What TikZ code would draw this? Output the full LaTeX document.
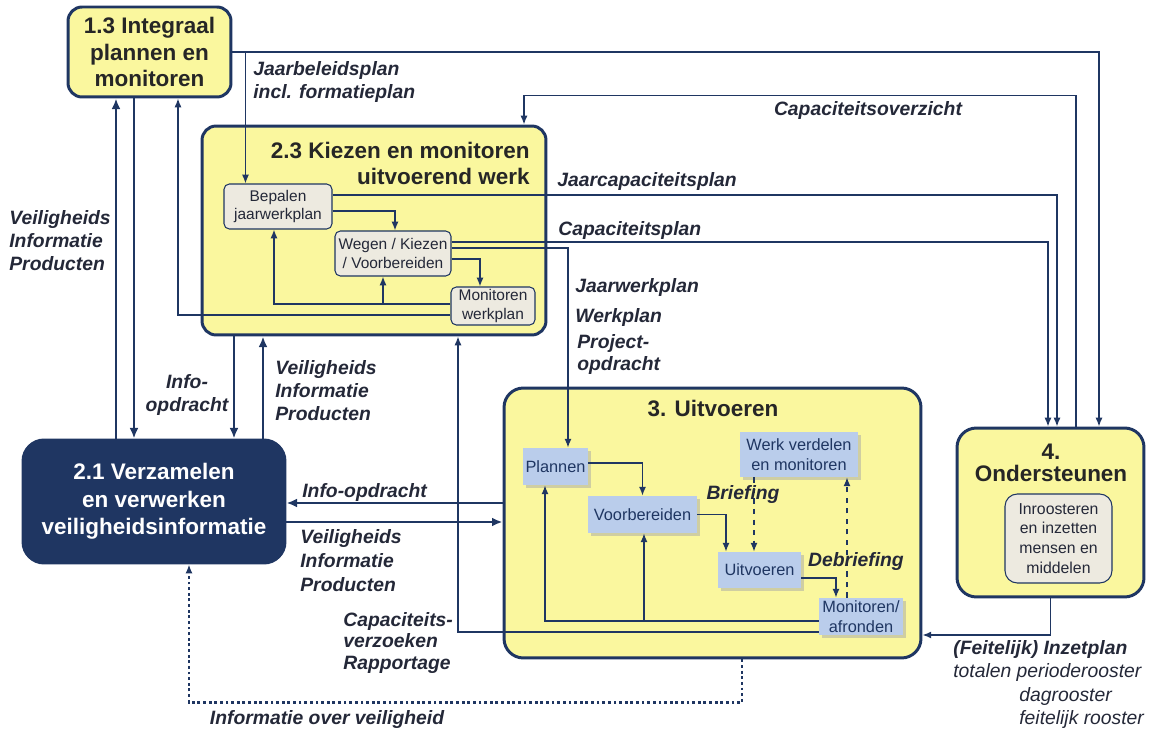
\documentclass[tikz,border=0pt]{standalone}
\usepackage{fontspec}
\setmainfont{Liberation Sans}
\usepackage{tikz}
\usetikzlibrary{calc,shadows,arrows.meta}
\definecolor{donkerblauw}{RGB}{31,54,98}
\definecolor{vlakgeel}{RGB}{250,247,158}
\definecolor{kadergrijs}{RGB}{237,234,224}
\definecolor{kaderblauw}{RGB}{186,205,235}
\definecolor{tekstgrijs}{RGB}{36,40,56}

\tikzset{
	blok/.style={draw=donkerblauw,line width=1.7pt,fill=vlakgeel,rounded corners=8pt,inner sep=0pt},
	deelblok/.style={draw=donkerblauw,line width=0.6pt,fill=kadergrijs,rounded corners=3pt,inner sep=0pt,align=center,font=\fontsize{8.8}{10.5}\selectfont,text=tekstgrijs},
	taakblok/.style={fill=kaderblauw,inner sep=0pt,align=center,font=\fontsize{9.3}{11}\selectfont,text=donkerblauw,drop shadow={shadow xshift=1.5pt,shadow yshift=-1.5pt,fill=black!35}},
	pijl/.style={draw=donkerblauw,line width=0.8pt,-{Latex[length=5pt,width=4pt]}},
	dikpijl/.style={draw=donkerblauw,line width=1.5pt,-{Latex[length=6pt,width=5pt]}},
	bijschrift/.style={font=\bfseries\itshape\fontsize{11}{13}\selectfont,text=tekstgrijs,inner sep=0pt,align=left},
	bijschriftlicht/.style={font=\itshape\fontsize{11}{13}\selectfont,text=tekstgrijs,inner sep=0pt,align=left},
	titel/.style={font=\bfseries\fontsize{12.8}{15.3}\selectfont,text=black!85,inner sep=0pt}
}

\begin{document}
\begin{tikzpicture}[x=0.02cm,y=-0.02cm]
	\useasboundingbox (0,0) rectangle (1157,736);

	\node [blok,titel,align=center,minimum width=3.26cm,minimum height=1.8cm] (integraal) at (149.5,52) {1.3 Integraal\\plannen en\\monitoren};

	\node [blok,minimum width=6.88cm,minimum height=4.18cm] (kiezen) at (374,230.5) {};
	\node [titel,align=right,anchor=north east,font=\bfseries\fontsize{12.8}{14.7}\selectfont] (kiezentitel) at (530,142) {2.3 Kiezen en monitoren\\uitvoerend werk};
	\node [deelblok,minimum width=2.16cm,minimum height=0.9cm] (bepalen) at (278,206.5) {Bepalen\\jaarwerkplan};
	\node [deelblok,minimum width=2.32cm,minimum height=0.9cm] (wegen) at (393,253.5) {Wegen / Kiezen\\/ Voorbereiden};
	\node [deelblok,minimum width=1.68cm,minimum height=0.76cm] (monwerk) at (493,306) {Monitoren\\werkplan};

	\node [blok,fill=donkerblauw,rounded corners=12pt,titel,text=white,align=center,font=\bfseries\fontsize{12.8}{15.6}\selectfont,minimum width=5.24cm,minimum height=2.46cm] (verzamelen) at (154,501.5) {2.1 Verzamelen\\en verwerken\\veiligheidsinformatie};

	\node [blok,rounded corners=11pt,minimum width=8.34cm,minimum height=5.4cm] (uitvoeren) at (712.5,523) {};
	\node [titel] (uitvoerentitel) at (713,408) {3. Uitvoeren};
	\node [taakblok,minimum width=1.3cm,minimum height=0.74cm] (plannen) at (555.5,466.5) {Plannen};
	\node [taakblok,minimum width=2.18cm,minimum height=0.74cm] (voorber) at (642.5,514.5) {Voorbereiden};
	\node [taakblok,minimum width=2.36cm,minimum height=0.9cm] (verdelen) at (799,454.5) {Werk verdelen\\en monitoren};
	\node [taakblok,minimum width=1.66cm,minimum height=0.72cm] (uitv) at (759.5,570) {Uitvoeren};
	\node [taakblok,minimum width=1.68cm,minimum height=0.74cm] (afronden) at (861,616.5) {Monitoren/\\afronden};

	\node [blok,rounded corners=11pt,minimum width=3.74cm,minimum height=3.38cm] (onderst) at (1050.5,512.5) {};
	\node [titel,align=center,font=\bfseries\fontsize{12.8}{12.5}\selectfont] (onderstitel) at (1051,463) {4.\\Ondersteunen};
	\node [deelblok,rounded corners=7pt,font=\fontsize{9}{11.3}\selectfont,minimum width=2.14cm,minimum height=1.78cm] (inroosteren) at (1058.5,538.5) {Inroosteren\\en inzetten\\mensen en\\middelen};

	\coordinate (t1) at ($(bepalen.north west)+(22,0)$);
	\draw [pijl] (integraal.east) -| ($(onderst.north)+(48.5,0)$);
	\draw [pijl] (t1 |- integraal.east) -- (t1);
	\node [bijschrift,anchor=north west] (jbp) at (253,61) {Jaarbeleidsplan\\incl. formatieplan};

	\draw [pijl] ($(onderst.north)+(25.5,0)$) -- ++(0,-331) -| ($(kiezen.north)+(150,0)$);
	\node [bijschrift] (capov) at (868,111) {Capaciteitsoverzicht};
	\draw [pijl] ($(bepalen.east)+(0,-11.5)$) -| ($(onderst.north)+(6.5,0)$);
	\node [bijschrift,anchor=west] (jcp) at (557,182) {Jaarcapaciteitsplan};
	\draw [pijl] ($(wegen.east)+(0,-11.5)$) -| ($(onderst.north)+(-2.5,0)$);
	\node [bijschrift,anchor=west] (cp) at (558,231) {Capaciteitsplan};
	\draw [pijl] ($(wegen.east)+(0,-5.5)$) -| ($(plannen.north)+(12.5,0)$);
	\node [bijschrift,anchor=west] (jwp) at (575,288) {Jaarwerkplan};
	\node [bijschrift,anchor=west] (wp) at (575,318) {Werkplan};
	\node [bijschrift,anchor=north west,font=\bfseries\itshape\fontsize{11}{12.5}\selectfont] (po) at (577,334) {Project-\\opdracht};

	\draw [pijl] ($(bepalen.east)+(0,4.5)$) -| ($(wegen.north)+(2,0)$);
	\draw [pijl] ($(wegen.east)+(0,5.5)$) -| ($(monwerk.north)+(-13,0)$);
	\draw [pijl] ($(monwerk.west)+(0,-2)$) -| ($(bepalen.south)+(-4,0)$);
	\draw [pijl] ($(wegen.south)+(-10,28)$) -- ($(wegen.south)+(-10,0)$);
	\draw [pijl] ($(monwerk.west)+(0,9)$) -| ($(integraal.south)+(28.5,0)$);

	\coordinate (v1) at ($(verzamelen.north)+(-38,0)$);
	\coordinate (v2) at ($(verzamelen.north)+(-20,0)$);
	\coordinate (v3) at ($(verzamelen.north)+(80,0)$);
	\coordinate (v4) at ($(verzamelen.north)+(109,0)$);
	\draw [dikpijl] (v1) -- (v1 |- integraal.south);
	\draw [dikpijl] (v2 |- integraal.south) -- (v2);
	\draw [dikpijl] (v3 |- kiezen.south) -- (v3);
	\draw [dikpijl] (v4) -- (v4 |- kiezen.south);
	\node [bijschrift,anchor=north west] (vip1) at (9,210) {Veiligheids\\Informatie\\Producten};
	\node [bijschrift,align=center] (io1) at (187,395) {Info-\\opdracht};
	\node [bijschrift,anchor=north west] (vip2) at (275,360) {Veiligheids\\Informatie\\Producten};

	\coordinate (h1) at ($(uitvoeren.west)+(0,-20)$);
	\coordinate (h2) at ($(verzamelen.east)+(0,20.5)$);
	\draw [dikpijl] (h1) -- (h1 -| verzamelen.east);
	\draw [dikpijl] (h2) -- (h2 -| uitvoeren.west);
	\node [bijschrift,anchor=west] (io2) at (302,493) {Info-opdracht};
	\node [bijschrift,anchor=north west,font=\bfseries\itshape\fontsize{11}{13.6}\selectfont] (vip3) at (300,529) {Veiligheids\\Informatie\\Producten};

	\draw [pijl] ($(afronden.west)+(0,15.5)$) -| ($(kiezen.south)+(84,0)$);
	\node [bijschrift,anchor=north west,font=\bfseries\itshape\fontsize{11}{12.2}\selectfont] (cvr) at (343,612) {Capaciteits-\\verzoeken\\Rapportage};

	\coordinate (h3) at ($(voorber.south)+(1.5,0)$);
	\coordinate (h4) at ($(afronden.west)+(0,4.5)$);
	\draw [pijl] (h4) -| ($(plannen.south)+(-10.5,0)$);
	\draw [pijl] (h3 |- h4) -- (h3);
	\draw [pijl] ($(plannen.east)+(0,-3.5)$) -| (voorber.north);
	\draw [pijl] (voorber.east) -| ($(uitv.north)+(-33.5,0)$);
	\draw [pijl] ($(uitv.east)+(0,8)$) -| ($(afronden.north)+(-25,0)$);
	\coordinate (d1) at ($(verdelen.south)+(-45,0)$);
	\coordinate (d2) at ($(afronden.north)+(-14,0)$);
	\draw [pijl,dashed] (d1) -- (d1 |- uitv.north);
	\draw [pijl,dashed] (d2) -- (d2 |- verdelen.south);
	\node [bijschrift] (brief) at (743,495) {Briefing};
	\node [bijschrift] (debrief) at (856,562) {Debriefing};

	\draw [pijl] (onderst.south) |- ($(uitvoeren.east)+(0,112)$);
	\node [bijschrift,anchor=west] (inzet) at (953,650) {(Feitelijk) Inzetplan};
	\node [bijschriftlicht,anchor=west] (totalen) at (953,673) {totalen perioderooster};
	\node [bijschriftlicht,anchor=west] (dag) at (1019,697) {dagrooster};
	\node [bijschriftlicht,anchor=west] (feitelijk) at (1019,720) {feitelijk rooster};

	\draw [pijl,line width=1.5pt,dash pattern=on 1.6pt off 1.6pt] ($(uitvoeren.south)+(29.5,0)$) -- ++(0,43) -| ($(verzamelen.south)+(35,0)$);
	\node [bijschrift] (ioveil) at (327,720) {Informatie over veiligheid};
\end{tikzpicture}
\end{document}
